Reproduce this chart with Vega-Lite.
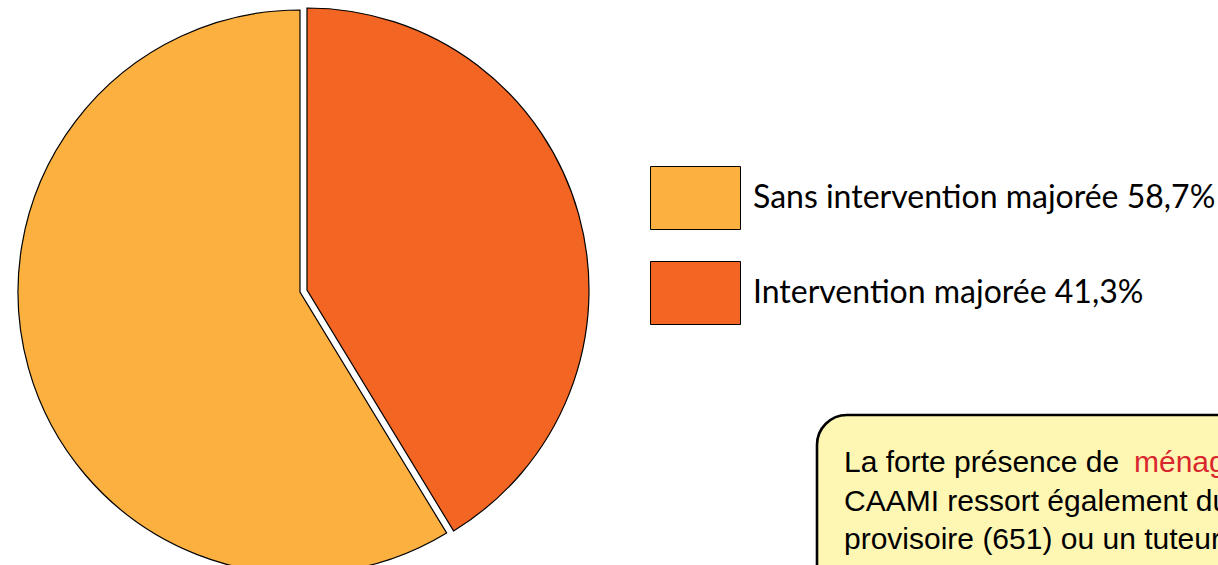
{
  "$schema": "https://vega.github.io/schema/vega-lite/v6.json",
  "padding": 0,
  "background": "white",
  "spacing": 208,
  "config": {
    "view": {"stroke": null},
    "legend": {
      "orient": "none",
      "legendX": 650,
      "legendY": 152.5,
      "padding": 0,
      "title": null,
      "symbolType": "M-1,-0.7H1V0.7H-1Z",
      "symbolSize": 8100,
      "symbolStrokeColor": "black",
      "symbolStrokeWidth": 1,
      "symbolOpacity": 1,
      "labelFont": "Lato",
      "labelFontSize": 32,
      "labelColor": "black",
      "labelOffset": 12,
      "labelLimit": 2000,
      "rowPadding": 16
    }
  },
  "hconcat": [
    {
      "width": 607,
      "height": 582,
      "data": {
        "values": [
          {"cat": "Sans intervention majorée 58,7%", "value": 58.7},
          {"cat": "Intervention majorée 41,3%", "value": 41.3}
        ]
      },
      "transform": [
        {"stack": "value", "groupby": [], "sort": [{"field": "value", "order": "ascending"}], "as": ["t0", "t1"]}
      ],
      "encoding": {
        "theta": {"field": "t0", "type": "quantitative", "scale": {"domain": [0, 100]}},
        "theta2": {"field": "t1"},
        "color": {
          "field": "cat",
          "type": "nominal",
          "scale": {
            "domain": ["Sans intervention majorée 58,7%", "Intervention majorée 41,3%"],
            "range": ["#FBB040", "#F26522"]
          }
        }
      },
      "layer": [
        {
          "transform": [{"filter": "datum.cat === 'Intervention majorée 41,3%'"}],
          "mark": {"type": "arc", "outerRadius": 282, "stroke": "black", "strokeWidth": 1.2, "xOffset": 3.5, "yOffset": -1}
        },
        {
          "transform": [{"filter": "datum.cat === 'Sans intervention majorée 58,7%'"}],
          "mark": {"type": "arc", "outerRadius": 282, "stroke": "black", "strokeWidth": 1.2, "xOffset": -3.5, "yOffset": 1}
        }
      ]
    },
    {
      "spacing": 0,
      "vconcat": [
        {
          "width": 500,
          "height": 413,
          "data": {"values": []},
          "mark": {"type": "point", "opacity": 0},
          "encoding": {}
        },
        {
          "width": 500,
          "height": 200,
          "data": {
            "values": [
              {"line": 1, "part": "noir", "txt": "La forte présence de"},
              {"line": 1, "part": "rouge", "txt": "ménages précaires parmi les assurés de la"},
              {"line": 2, "part": "noir", "txt": "CAAMI ressort également du nombre de"},
              {"line": 3, "part": "noir", "txt": "provisoire (651) ou un tuteur (…)"},
              {"line": 4, "part": "noir", "txt": "soumis à la tutelle d'un service collectif de la"}
            ]
          },
          "layer": [
            {
              "data": {"values": [{"box": "encadré"}]},
              "mark": {"type": "rect", "fill": "#FEF7B4", "stroke": "black", "strokeWidth": 2.6, "cornerRadius": 30},
              "encoding": {}
            },
            {
              "transform": [{"filter": "datum.part === 'noir'"}],
              "mark": {"type": "text", "align": "left", "baseline": "alphabetic", "font": "Liberation Sans", "fontSize": 30, "color": "black", "dx": 27},
              "encoding": {
                "x": {"datum": 0, "type": "quantitative", "scale": {"domain": [0, 1]}, "axis": null},
                "y": {"field": "line", "type": "ordinal", "scale": {"type": "point", "domain": [1, 2, 3, 4], "range": [57, 173], "padding": 0}, "axis": null},
                "text": {"field": "txt"}
              }
            },
            {
              "transform": [{"filter": "datum.part === 'rouge'"}],
              "mark": {"type": "text", "align": "left", "baseline": "alphabetic", "font": "Liberation Sans", "fontSize": 30, "color": "#D9272E", "dx": 317},
              "encoding": {
                "x": {"datum": 0, "type": "quantitative", "scale": {"domain": [0, 1]}, "axis": null},
                "y": {"field": "line", "type": "ordinal", "scale": {"type": "point", "domain": [1, 2, 3, 4], "range": [57, 173], "padding": 0}, "axis": null},
                "text": {"field": "txt"}
              }
            }
          ]
        }
      ]
    }
  ]
}
